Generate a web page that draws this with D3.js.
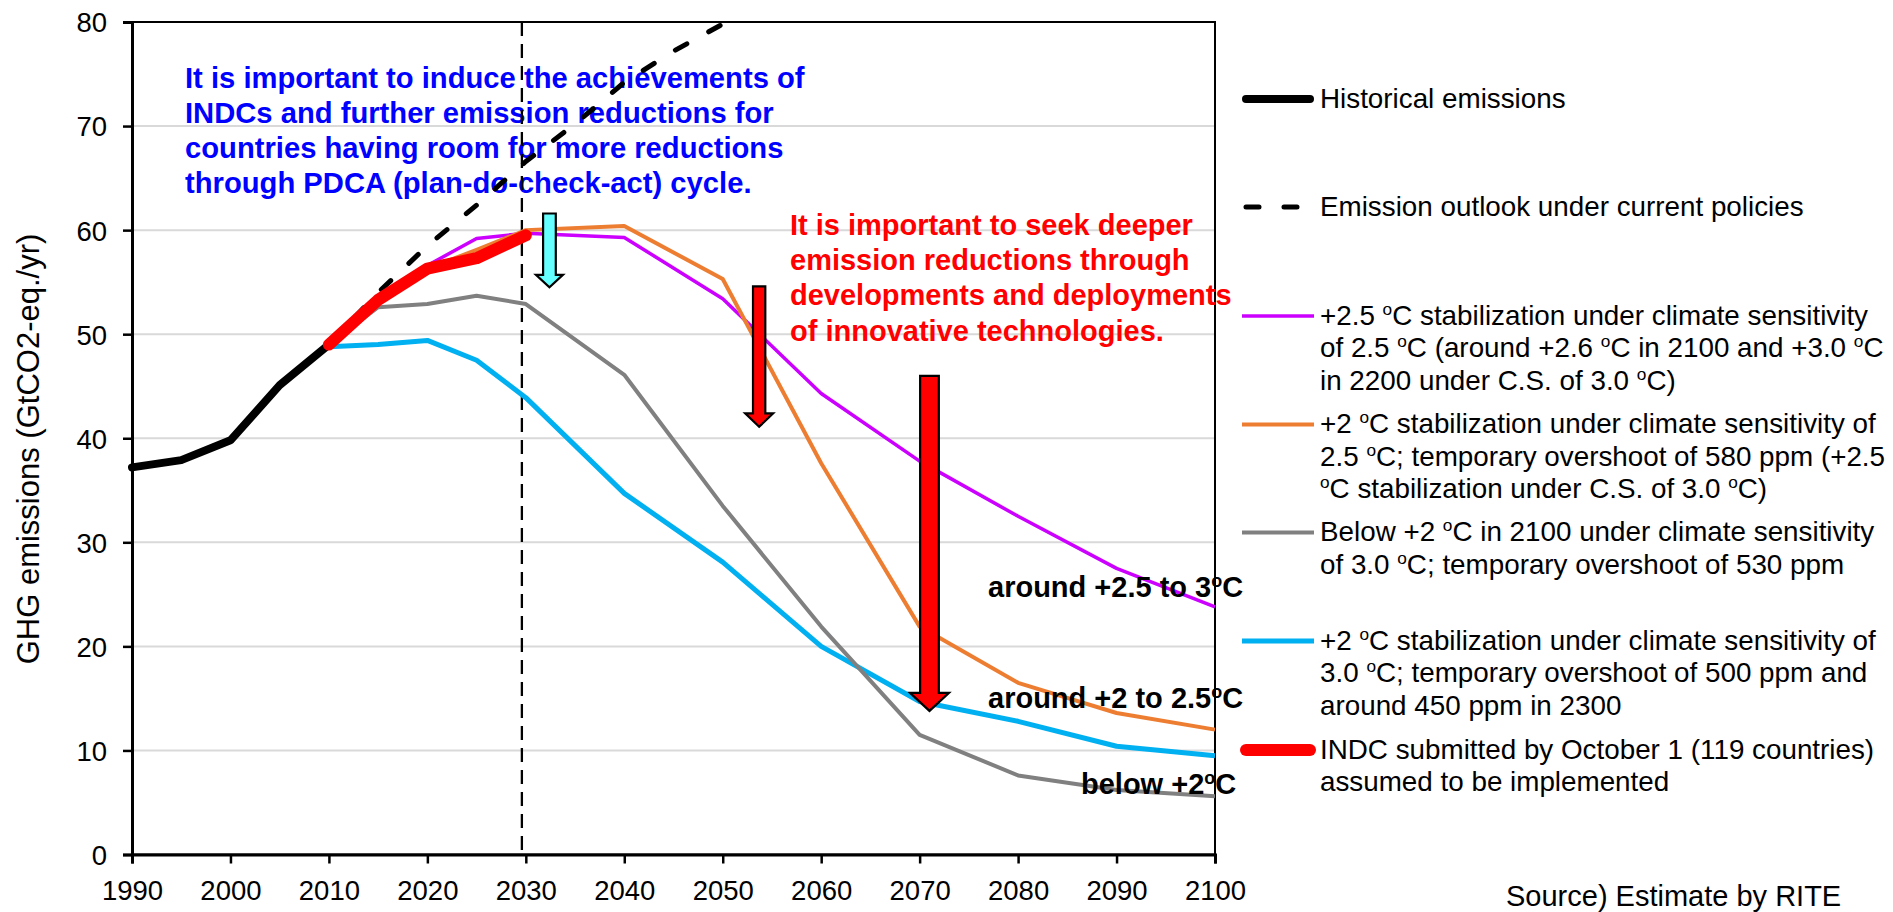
<!DOCTYPE html>
<html>
<head>
<meta charset="utf-8">
<script src="https://cdn.jsdelivr.net/npm/d3@7"></script>
<style>
  html, body { margin: 0; padding: 0; background: #fff; }
  svg { display: block; font-family: "Liberation Sans", Arial, sans-serif; }
</style>
</head>
<body>
<svg id="chart" width="1893" height="912"></svg>
<script>
// ---- data ----
var histYears = [1990, 1995, 2000, 2005, 2010],
  histValues = [37.2, 37.9, 39.8, 45.1, 49.0];

var policyYears = [2010, 2015, 2020, 2025, 2030, 2035, 2040, 2045, 2050],
  policyValues = [49.0, 54.0, 58.5, 62.4, 66.6, 70.2, 74.2, 77.2, 79.8];

var indcYears = [2010, 2015, 2020, 2025, 2030],
  indcValues = [49.0, 53.3, 56.3, 57.3, 59.5];

var scenYears = [2010, 2015, 2020, 2025, 2030, 2040, 2050, 2060, 2070, 2080, 2090, 2100],
  purpleValues = [49.0, 53.0, 56.6, 59.2, 59.7, 59.3, 53.4, 44.3, 37.8, 32.5, 27.5, 23.8],
  orangeValues = [49.0, 53.0, 56.3, 58.1, 60.0, 60.4, 55.3, 37.6, 21.9, 16.5, 13.6, 12.0],
  grayValues = [49.0, 52.6, 52.9, 53.7, 52.9, 46.1, 33.5, 21.9, 11.5, 7.6, 6.2, 5.6],
  blueValues = [48.8, 49.0, 49.4, 47.5, 43.9, 34.7, 28.1, 20.0, 14.7, 12.8, 10.4, 9.5];

var xTicks = [1990, 2000, 2010, 2020, 2030, 2040, 2050, 2060, 2070, 2080, 2090, 2100],
  yTicks = [0, 10, 20, 30, 40, 50, 60, 70, 80];

// arrows: year, start value, tip value
var arrowYears = [2032.4, 2053.7, 2071.0],
  arrowFrom = [61.6, 54.6, 46.0],
  arrowTo = [54.5, 41.1, 13.8];

var blueNote = [
  "It is important to induce the achievements of",
  "INDCs and further emission reductions for",
  "countries having room for more reductions",
  "through PDCA (plan-do-check-act) cycle."
];
var redNote = [
  "It is important to seek deeper",
  "emission reductions through",
  "developments and deployments",
  "of innovative technologies."
];

var legendLabels = [
  ["Historical emissions"],
  ["Emission outlook under current policies"],
  ["+2.5 {o}C stabilization under climate sensitivity",
   "of 2.5 {o}C (around +2.6 {o}C in 2100 and +3.0 {o}C",
   "in 2200 under C.S. of 3.0 {o}C)"],
  ["+2 {o}C stabilization under climate sensitivity of",
   "2.5 {o}C; temporary overshoot of 580 ppm (+2.5",
   "{o}C stabilization under C.S. of 3.0 {o}C)"],
  ["Below +2 {o}C in 2100 under climate sensitivity",
   "of 3.0 {o}C; temporary overshoot of 530 ppm"],
  ["+2 {o}C stabilization under climate sensitivity of",
   "3.0 {o}C; temporary overshoot of 500 ppm and",
   "around 450 ppm in 2300"],
  ["INDC submitted by October 1 (119 countries)",
   "assumed to be implemented"]
];

(function() {
var svg = d3.select("#chart"),
  plot = {left: 132, right: 1215, top: 22, bottom: 854.5},
  x = d3.scaleLinear().domain([1990, 2100]).range([plot.left, plot.right]),
  y = d3.scaleLinear().domain([0, 80]).range([plot.bottom, plot.top]),
  zip = function(xs, vs) {
    return xs.map(function(d, i) { return [d, vs[i]]; });
  },
  line = d3.line()
    .x(function(d) { return x(d[0]); })
    .y(function(d) { return y(d[1]); }),
  // text with {o} markers turned into raised small "o"
  richText = function(sel, str) {
    str.split(/(\{o\})/).forEach(function(p) {
      if (p === "") return;
      if (p === "{o}") {
        sel.append("tspan")
          .attr("font-size", "62%")
          .attr("baseline-shift", "super")
          .text("o");
      } else {
        sel.append("tspan").text(p);
      }
    });
  };

// grid
svg.append("g")
  .selectAll("line")
  .data(yTicks.filter(function(d) { return d > 0 && d < 80; }))
  .enter().append("line")
    .attr("x1", plot.left).attr("x2", plot.right)
    .attr("y1", function(d) { return y(d); })
    .attr("y2", function(d) { return y(d); })
    .attr("stroke", "#d9d9d9")
    .attr("stroke-width", 2);

// frame
svg.append("rect")
  .attr("x", plot.left).attr("y", plot.top)
  .attr("width", plot.right - plot.left)
  .attr("height", plot.bottom - plot.top)
  .attr("fill", "none")
  .attr("stroke", "#000")
  .attr("stroke-width", 2);

// axes
var yAxis = svg.append("g")
  .attr("transform", "translate(" + plot.left + ",0)")
  .call(d3.axisLeft(y).tickValues(yTicks).tickSize(9).tickPadding(16));
var xAxis = svg.append("g")
  .attr("transform", "translate(0," + plot.bottom + ")")
  .call(d3.axisBottom(x).tickValues(xTicks).tickFormat(d3.format("d")).tickSize(9).tickPadding(17));

[yAxis, xAxis].forEach(function(ax) {
  ax.select(".domain").attr("stroke-width", 3);
  ax.selectAll(".tick line").attr("stroke-width", 2.5);
  ax.selectAll(".tick text")
    .attr("font-size", 27.5)
    .attr("font-family", "Liberation Sans, Arial, sans-serif")
    .attr("fill", "#000");
});
yAxis.selectAll(".tick text").attr("dy", "0.36em");
xAxis.selectAll(".tick text").attr("dy", "0.72em");

svg.append("text")
  .attr("transform", "translate(39," + 449 + ") rotate(-90)")
  .attr("text-anchor", "middle")
  .attr("font-size", 31)
  .text("GHG emissions (GtCO2-eq./yr)");

// annotation notes (under the lines)
var noteBlue = svg.append("text")
  .attr("font-size", 29.2)
  .attr("font-weight", "bold")
  .attr("fill", "#0000ff");
blueNote.forEach(function(t, i) {
  noteBlue.append("tspan").attr("x", 185).attr("y", 87.5 + i * 35.1).text(t);
});

var noteRed = svg.append("text")
  .attr("font-size", 29)
  .attr("font-weight", "bold")
  .attr("fill", "#ff0000");
redNote.forEach(function(t, i) {
  noteRed.append("tspan").attr("x", 790).attr("y", 235 + i * 35.2).text(t);
});

// 2030 marker
svg.append("line")
  .attr("x1", x(2029.6)).attr("x2", x(2029.6))
  .attr("y1", plot.top).attr("y2", plot.bottom)
  .attr("stroke", "#000")
  .attr("stroke-width", 2.3)
  .attr("stroke-dasharray", "14,8");

// series
var series = [
  {vals: zip(scenYears, blueValues), color: "#00b0f0", width: 5},
  {vals: zip(scenYears, grayValues), color: "#808080", width: 4},
  {vals: zip(scenYears, purpleValues), color: "#cc00ff", width: 3.5},
  {vals: zip(scenYears, orangeValues), color: "#ed7d31", width: 4},
  {vals: zip(histYears, histValues), color: "#000", width: 8, cap: "round"},
  {vals: zip(policyYears, policyValues), color: "#000", width: 5, cap: "round", dash: "13,25"},
  {vals: zip(indcYears, indcValues), color: "#ff0000", width: 12, cap: "round"}
];

svg.append("g")
  .selectAll("path")
  .data(series)
  .enter().append("path")
    .attr("d", function(d) { return line(d.vals); })
    .attr("fill", "none")
    .attr("stroke", function(d) { return d.color; })
    .attr("stroke-width", function(d) { return d.width; })
    .attr("stroke-linejoin", "round")
    .attr("stroke-linecap", function(d) { return d.cap || "butt"; })
    .attr("stroke-dasharray", function(d) { return d.dash || null; });

// arrows
var arrowStyle = [
  {fill: "#66ffff", shaft: 12.7, head: 27, headLen: 12.5},
  {fill: "#ff0000", shaft: 12.3, head: 28, headLen: 13.5},
  {fill: "#ff0000", shaft: 18.7, head: 39, headLen: 18}
];
svg.append("g")
  .selectAll("path")
  .data(arrowYears)
  .enter().append("path")
    .attr("d", function(d, i) {
      var s = arrowStyle[i],
        cx = x(d),
        top = y(arrowFrom[i]),
        tip = y(arrowTo[i]),
        hy = tip - s.headLen;
      return "M" + (cx - s.shaft / 2) + "," + top +
        "H" + (cx + s.shaft / 2) +
        "V" + hy + "H" + (cx + s.head / 2) +
        "L" + cx + "," + tip +
        "L" + (cx - s.head / 2) + "," + hy +
        "H" + (cx - s.shaft / 2) + "Z";
    })
    .attr("fill", function(d, i) { return arrowStyle[i].fill; })
    .attr("stroke", "#000")
    .attr("stroke-width", 2.2)
    .attr("stroke-linejoin", "miter");

// labels on the lines
var lineLabels = [
  {x: 988, y: 597, t: "around +2.5 to 3{o}C"},
  {x: 988, y: 707.5, t: "around +2 to 2.5{o}C"},
  {x: 1081, y: 794, t: "below +2{o}C"}
];
lineLabels.forEach(function(l) {
  var t = svg.append("text")
    .attr("x", l.x).attr("y", l.y)
    .attr("font-size", 29)
    .attr("font-weight", "bold")
    .attr("fill", "#000");
  richText(t, l.t);
});

// legend
var legendY = [99, 207, 316, 424.5, 532.5, 641, 750],
  legendSwatch = [
    {color: "#000", width: 8, cap: "round"},
    {color: "#000", width: 5, cap: "round", dash: "13,25"},
    {color: "#cc00ff", width: 3.5},
    {color: "#ed7d31", width: 4},
    {color: "#808080", width: 4},
    {color: "#00b0f0", width: 5},
    {color: "#ff0000", width: 12, cap: "round"}
  ],
  legend = svg.append("g");

legendLabels.forEach(function(lines, i) {
  var sw = legendSwatch[i],
    g = legend.append("g").attr("transform", "translate(0," + legendY[i] + ")");
  g.append("line")
    .attr("x1", sw.cap ? 1246 : 1242).attr("x2", sw.dash ? 1299 : (sw.cap ? 1310 : 1314))
    .attr("y1", 0).attr("y2", 0)
    .attr("stroke", sw.color)
    .attr("stroke-width", sw.width)
    .attr("stroke-linecap", sw.cap || "butt")
    .attr("stroke-dasharray", sw.dash || null);
  lines.forEach(function(t, j) {
    var tx = g.append("text")
      .attr("x", 1320)
      .attr("y", 8.5 + j * 32.5)
      .attr("font-size", 27.8)
      .attr("fill", "#000");
    richText(tx, t);
  });
});

svg.append("text")
  .attr("x", 1506).attr("y", 906)
  .attr("font-size", 29)
  .text("Source) Estimate by RITE");
})();
</script>
</body>
</html>
